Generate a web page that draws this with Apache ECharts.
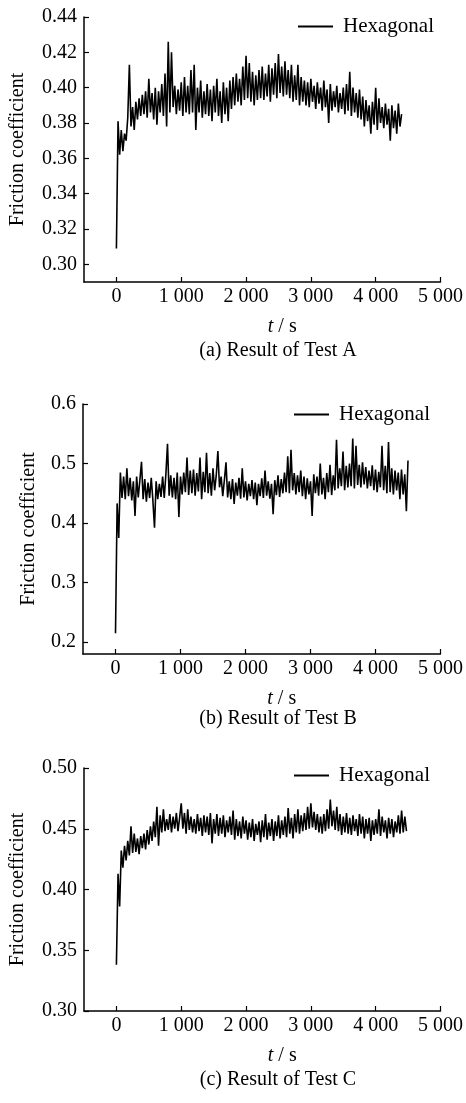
<!DOCTYPE html>
<html>
<head>
<meta charset="utf-8">
<script src="https://cdn.jsdelivr.net/npm/echarts@6/dist/echarts.min.js"></script>
<style>
html,body{margin:0;padding:0;background:#fff;}
#chart{width:466px;height:1103px;}
</style>
</head>
<body>
<div id="chart"></div>
<script>
// ---- data ----
const SAMPLE_STEP_S = 25; // sampling interval of the readings, seconds
const seriesName = 'Hexagonal';
const captions = ['(a) Result of Test A', '(b) Result of Test B', '(c) Result of Test C'];
const xTicks = [0, 1000, 2000, 3000, 4000, 5000];
const yTicksA = [0.30, 0.32, 0.34, 0.36, 0.38, 0.40, 0.42, 0.44];
const yTicksB = [0.2, 0.3, 0.4, 0.5, 0.6];
const yTicksC = [0.30, 0.35, 0.40, 0.45, 0.50];

const frictionA = [
0.309,0.381,0.362,0.376,0.364,0.374,0.370,0.383,
0.413,0.378,0.389,0.376,0.392,0.382,0.394,0.384,
0.396,0.385,0.398,0.383,0.405,0.386,0.397,0.382,
0.400,0.379,0.398,0.386,0.402,0.384,0.408,0.378,
0.426,0.386,0.420,0.389,0.401,0.385,0.399,0.387,
0.403,0.384,0.406,0.386,0.401,0.385,0.410,0.386,
0.413,0.376,0.400,0.386,0.404,0.383,0.398,0.385,
0.402,0.384,0.399,0.381,0.401,0.386,0.405,0.384,
0.398,0.380,0.403,0.385,0.400,0.381,0.404,0.388,
0.406,0.390,0.408,0.392,0.405,0.390,0.412,0.393,
0.418,0.394,0.414,0.392,0.409,0.390,0.407,0.393,
0.410,0.394,0.412,0.393,0.408,0.395,0.413,0.392,
0.411,0.396,0.414,0.394,0.419,0.397,0.412,0.395,
0.415,0.396,0.410,0.394,0.413,0.392,0.407,0.393,
0.413,0.390,0.406,0.392,0.404,0.390,0.403,0.389,
0.405,0.392,0.401,0.388,0.403,0.391,0.400,0.387,
0.404,0.389,0.399,0.380,0.402,0.387,0.398,0.389,
0.401,0.386,0.397,0.388,0.400,0.385,0.402,0.387,
0.409,0.384,0.400,0.386,0.397,0.383,0.399,0.382,
0.395,0.378,0.393,0.381,0.390,0.374,0.392,0.379,
0.400,0.376,0.394,0.380,0.389,0.377,0.391,0.379,
0.388,0.370,0.390,0.377,0.387,0.374,0.391,0.378,
0.385
];

const frictionB = [
0.215,0.433,0.375,0.485,0.442,0.478,0.440,0.492,
0.445,0.476,0.438,0.470,0.412,0.478,0.443,0.472,
0.503,0.440,0.474,0.436,0.468,0.442,0.476,0.438,
0.392,0.470,0.440,0.466,0.444,0.478,0.442,0.482,
0.533,0.446,0.480,0.443,0.476,0.440,0.485,0.410,
0.478,0.448,0.485,0.452,0.510,0.447,0.488,0.450,
0.490,0.446,0.484,0.453,0.510,0.440,0.486,0.452,
0.518,0.450,0.484,0.446,0.492,0.455,0.480,0.521,
0.460,0.478,0.445,0.472,0.502,0.443,0.470,0.440,
0.474,0.432,0.468,0.446,0.476,0.441,0.492,0.443,
0.470,0.438,0.466,0.445,0.472,0.440,0.468,0.430,
0.466,0.445,0.475,0.442,0.488,0.446,0.470,0.441,
0.466,0.415,0.472,0.447,0.480,0.444,0.474,0.450,
0.485,0.452,0.512,0.450,0.523,0.455,0.484,0.448,
0.480,0.452,0.488,0.445,0.478,0.440,0.475,0.448,
0.470,0.412,0.482,0.450,0.478,0.446,0.500,0.448,
0.476,0.440,0.484,0.452,0.498,0.447,0.480,0.455,
0.540,0.458,0.492,0.462,0.520,0.455,0.496,0.460,
0.500,0.462,0.542,0.458,0.530,0.464,0.498,0.460,
0.502,0.465,0.494,0.458,0.488,0.462,0.497,0.455,
0.490,0.452,0.486,0.460,0.530,0.455,0.496,0.450,
0.536,0.452,0.492,0.448,0.488,0.455,0.485,0.440,
0.490,0.448,0.482,0.420,0.505
];

const frictionC = [
0.338,0.413,0.386,0.432,0.418,0.436,0.424,0.440,
0.428,0.452,0.430,0.446,0.431,0.442,0.429,0.444,
0.434,0.446,0.433,0.449,0.437,0.452,0.440,0.456,
0.443,0.468,0.436,0.461,0.447,0.466,0.448,0.458,
0.449,0.462,0.447,0.460,0.450,0.463,0.448,0.459,
0.471,0.450,0.463,0.446,0.466,0.449,0.460,0.447,
0.458,0.446,0.462,0.448,0.459,0.444,0.461,0.447,
0.460,0.445,0.463,0.438,0.458,0.446,0.462,0.444,
0.459,0.446,0.461,0.443,0.457,0.447,0.460,0.445,
0.465,0.441,0.458,0.444,0.456,0.442,0.460,0.446,
0.457,0.441,0.455,0.443,0.458,0.440,0.454,0.445,
0.456,0.439,0.457,0.443,0.462,0.441,0.455,0.444,
0.458,0.440,0.456,0.444,0.461,0.442,0.457,0.445,
0.460,0.443,0.467,0.446,0.459,0.442,0.462,0.447,
0.466,0.446,0.461,0.448,0.463,0.449,0.468,0.450,
0.471,0.451,0.464,0.449,0.462,0.447,0.460,0.446,
0.462,0.448,0.466,0.450,0.474,0.452,0.465,0.449,
0.468,0.448,0.462,0.445,0.460,0.447,0.463,0.446,
0.459,0.445,0.461,0.448,0.458,0.444,0.462,0.446,
0.460,0.442,0.458,0.446,0.459,0.440,0.457,0.445,
0.458,0.446,0.466,0.444,0.460,0.447,0.457,0.442,
0.459,0.446,0.458,0.443,0.456,0.447,0.461,0.446,
0.465,0.447,0.460,0.448
];

// ---- chart ----
const FONT = "'Liberation Serif','Times New Roman',serif";
const BLACK = '#000';
const toPairs = arr => arr.map((v, i) => [i * SAMPLE_STEP_S, v]);
const fmtThousands = v => {
  const s = String(Math.round(v));
  return s.length > 3 ? s.slice(0, s.length - 3) + ' ' + s.slice(-3) : s;
};

const grids = [
  {left: 83, right: 25, top: 17, bottom: 821},
  {left: 83, right: 25, top: 404, bottom: 449},
  {left: 83, right: 25, top: 768, bottom: 92}
];
const yDefs = [
  {min: 0.29, max: 0.44, ticks: yTicksA, dec: 2, gap: 56},
  {min: 0.18, max: 0.6, ticks: yTicksB, dec: 1, gap: 44},
  {min: 0.30, max: 0.50, ticks: yTicksC, dec: 2, gap: 56}
];
const legendPos = [{left: 298, top: 16}, {left: 294, top: 404}, {left: 294, top: 765}];
const captionTop = [341, 709, 1070];
const dataSets = [frictionA, frictionB, frictionC];

const option = {
  animation: false,
  backgroundColor: '#fff',
  textStyle: {fontFamily: FONT, color: BLACK},
  grid: grids,
  title: captions.map((c, i) => ({
    text: c, left: 278, top: captionTop[i], textAlign: 'center', padding: 0,
    textStyle: {fontFamily: FONT, fontSize: 20, fontWeight: 'normal', color: BLACK}
  })),
  legend: legendPos.map((p, i) => ({
    left: p.left, top: p.top, data: [seriesName], icon: 'rect',
    itemWidth: 35, itemHeight: 2, padding: 0,
    textStyle: {fontFamily: FONT, fontSize: 21, color: BLACK, padding: [0, 0, 0, 5]},
    selectedMode: false
  })),
  xAxis: grids.map((g, i) => ({
    type: 'value', gridIndex: i, min: -500, max: 5000,
    name: '{i|t} / s', nameLocation: 'middle', nameGap: 35,
    nameTextStyle: {fontFamily: FONT, fontSize: 20, color: BLACK, padding: [0, 0, 0, 40],
      rich: {i: {fontFamily: FONT, fontSize: 20, fontStyle: 'italic', color: BLACK}}},
    axisLine: {show: true, onZero: false, lineStyle: {color: BLACK, width: 1.5}},
    axisTick: {show: true, inside: true, length: 5, customValues: xTicks, lineStyle: {color: BLACK, width: 1.2}},
    axisLabel: {customValues: xTicks, formatter: fmtThousands, fontFamily: FONT, fontSize: 20, color: BLACK, margin: 5},
    splitLine: {show: false}
  })),
  yAxis: yDefs.map((d, i) => ({
    type: 'value', gridIndex: i, min: d.min, max: d.max,
    name: 'Friction coefficient', nameLocation: 'middle', nameGap: d.gap, nameRotate: 90,
    nameTextStyle: {fontFamily: FONT, fontSize: 20, color: BLACK},
    axisLine: {show: true, onZero: false, lineStyle: {color: BLACK, width: 1.5}},
    axisTick: {show: true, inside: true, length: 5, customValues: d.ticks, lineStyle: {color: BLACK, width: 1.2}},
    axisLabel: {customValues: d.ticks, formatter: v => v.toFixed(d.dec), fontFamily: FONT, fontSize: 20, color: BLACK, margin: 7},
    splitLine: {show: false}
  })),
  series: dataSets.map((arr, i) => ({
    type: 'line', name: seriesName, xAxisIndex: i, yAxisIndex: i,
    data: toPairs(arr), showSymbol: false, symbol: 'none',
    lineStyle: {color: BLACK, width: 1.6}, itemStyle: {color: BLACK},
    sampling: null, silent: true
  }))
};

const chart = echarts.init(document.getElementById('chart'), null, {renderer: 'canvas'});
chart.setOption(option);
</script>
</body>
</html>
